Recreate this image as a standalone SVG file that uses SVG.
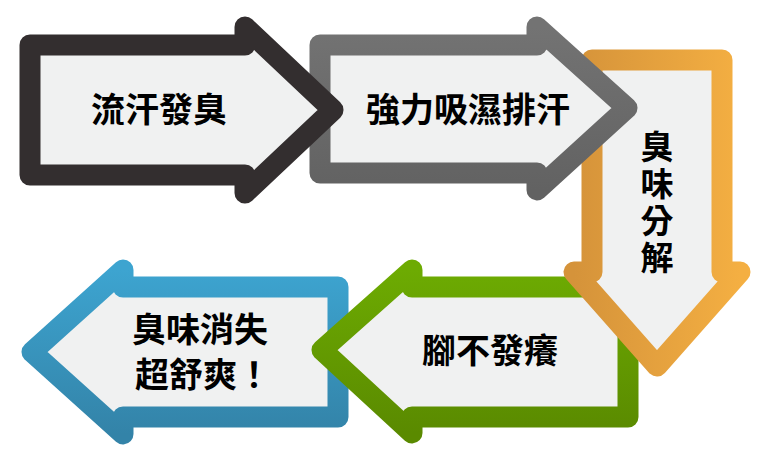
<svg xmlns="http://www.w3.org/2000/svg" width="770" height="460" viewBox="0 0 770 460">
<defs>
<linearGradient id="gOr" x1="0" x2="1" y1="0" y2="0"><stop offset="0" stop-color="#d5933a"/><stop offset="1" stop-color="#f4af42"/></linearGradient>
<linearGradient id="gGr" x1="0" x2="0" y1="0" y2="1"><stop offset="0" stop-color="#6dab02"/><stop offset="1" stop-color="#5a8a00"/></linearGradient>
<linearGradient id="gBl" x1="0" x2="0" y1="0" y2="1"><stop offset="0" stop-color="#3da4d0"/><stop offset="1" stop-color="#3383a8"/></linearGradient>
<linearGradient id="gGy" x1="0" x2="0" y1="0" y2="1"><stop offset="0" stop-color="#737373"/><stop offset="1" stop-color="#626262"/></linearGradient>
</defs>
<style>
.ar{fill:#f0f1f1;stroke-width:21;stroke-linejoin:round}
.t{font-family:"Noto Sans CJK TC","Noto Sans CJK SC",sans-serif;font-weight:bold;font-size:34px;fill:#000;text-anchor:middle}
.v{font-size:33px;writing-mode:vertical-rl;text-anchor:start;letter-spacing:4px}
</style>
<g id="n5"><polygon class="ar" stroke="url(#gBl)" points="338,287 123,287 123,270 32,352 123,434 123,417 338,417"/>
<text class="t" x="200" y="342">臭味消失</text><text class="t" x="203" y="387">超舒爽！</text></g>
<g id="n4"><polygon class="ar" stroke="url(#gGr)" points="628,287 412,287 412,270 322,350 412,433 412,417 628,417"/>
<text class="t" x="490" y="363">腳不發癢</text></g>
<g id="n3"><polygon class="ar" stroke="url(#gOr)" points="592,60 722,60 722,272 740,272 657,366 574,272 592,272"/>
<text class="t v" x="657" y="130">臭味分解</text></g>
<g id="n2"><polygon class="ar" stroke="url(#gGy)" points="320,45 537,45 537,27 627,108 537,190 537,173 320,173"/>
<text class="t" x="468" y="122">強力吸濕排汗</text></g>
<g id="n1"><polygon class="ar" stroke="#332e2f" points="30,45 245,45 245,27 333,110 245,193 245,175 30,175"/>
<text class="t" x="159" y="122">流汗發臭</text></g>
<g id="connectors"/>
</svg>
